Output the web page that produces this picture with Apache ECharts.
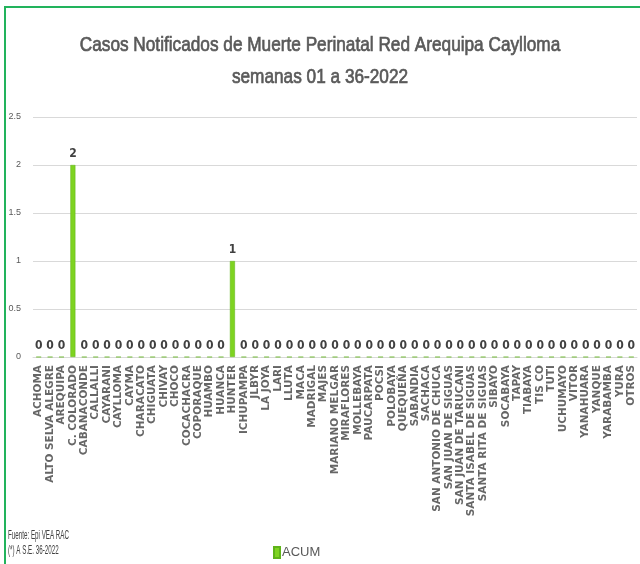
<!DOCTYPE html>
<html>
<head>
<meta charset="utf-8">
<script src="https://cdn.jsdelivr.net/npm/echarts@6/dist/echarts.min.js"></script>
<style>
  html, body { margin: 0; padding: 0; background: #fff; }
  #chart { width: 640px; height: 564px; }
</style>
</head>
<body>
<div id="chart"></div>
<script>
  // distritos
  var distritos = ['ACHOMA', 'ALTO SELVA ALEGRE', 'AREQUIPA', 'C. COLORADO', 'CABANACONDE', 'CALLALLI',
    'CAYARANI', 'CAYLLOMA', 'CAYMA', 'CHARACATO', 'CHIGUATA', 'CHIVAY', 'CHOCO', 'COCACHACRA',
    'COPORAQUE', 'HUAMBO', 'HUANCA', 'HUNTER', 'ICHUPAMPA', 'JLBYR', 'LA JOYA', 'LARI', 'LLUTA',
    'MACA', 'MADRIGAL', 'MAJES', 'MARIANO MELGAR', 'MIRAFLORES', 'MOLLEBAYA', 'PAUCARPATA', 'POCSI',
    'POLOBAYA', 'QUEQUEÑA', 'SABANDIA', 'SACHACA', 'SAN ANTONIO DE CHUCA', 'SAN JUAN DE SIGUAS',
    'SAN JUAN DE TARUCANI', 'SANTA ISABEL DE SIGUAS', 'SANTA RITA DE SIGUAS', 'SIBAYO', 'SOCABAYA',
    'TAPAY', 'TIABAYA', 'TIS CO', 'TUTI', 'UCHUMAYO', 'VITOR', 'YANAHUARA', 'YANQUE', 'YARABAMBA',
    'YURA', 'OTROS'];
  // casos acumulados
  var acum = [0, 0, 0, 2, 0, 0, 0, 0, 0, 0, 0, 0, 0, 0, 0, 0, 0, 1, 0, 0, 0, 0, 0, 0, 0, 0, 0,
    0, 0, 0, 0, 0, 0, 0, 0, 0, 0, 0, 0, 0, 0, 0, 0, 0, 0, 0, 0, 0, 0, 0, 0, 0, 0];
  var yTicks = [0, 0.5, 1, 1.5, 2, 2.5];

  var narrow = '"Liberation Sans", Arial, sans-serif';

  var chart = echarts.init(document.getElementById('chart'));
  chart.setOption({
    backgroundColor: '#fff',
    animation: false,
    graphic: [
      { type: 'rect', shape: { x: 5, y: 7, width: 700, height: 600 },
        style: { fill: 'none', stroke: '#22b35c', lineWidth: 2 } },
      // titulo (angosto como Arial Narrow)
      { type: 'text', x: 320, y: 29, scaleX: 0.82,
        style: { text: 'Casos Notificados de Muerte Perinatal Red Arequipa Caylloma\nsemanas 01 a 36-2022',
          textAlign: 'center', fill: '#595959', stroke: '#595959', lineWidth: 0.7, lineHeight: 32,
          font: '21px ' + narrow } },
      { type: 'text', x: 8, y: 528, scaleX: 0.52,
        style: { text: 'Fuente: Epi VEA RAC\n(*) A S.E. 36-2022', fill: '#404040', lineHeight: 15,
          font: '12px ' + narrow } }
    ],
    legend: {
      data: ['ACUM'],
      left: 268,
      top: 541,
      itemWidth: 6,
      itemHeight: 11,
      itemGap: 2,
      icon: 'rect',
      textStyle: {
        fontFamily: narrow,
        fontSize: 13, color: '#595959', padding: [0, 0, 0, -3]
      }
    },
    grid: { left: 33, right: 3, top: 117, bottom: 207, containLabel: false },
    xAxis: {
      type: 'category',
      data: distritos,
      axisLine: { lineStyle: { color: '#d9d9d9' } },
      axisTick: { show: false },
      axisLabel: {
        interval: 0,
        rotate: 90,
        margin: 8,
        color: '#666666',
        fontFamily: 'DejaVu Sans',
        fontWeight: 'bold',
        fontSize: 10.5
      }
    },
    yAxis: {
      type: 'value',
      min: 0,
      max: 2.5,
      interval: 0.5,
      axisLine: { show: false },
      axisTick: { show: false },
      splitLine: { lineStyle: { color: '#d9d9d9' } },
      axisLabel: {
        margin: 12,
        color: '#595959',
        fontFamily: narrow,
        fontSize: 9,
        formatter: function (v) { return yTicks.indexOf(v) >= 0 ? String(v) : ''; }
      }
    },
    series: [{
      name: 'ACUM',
      type: 'bar',
      data: acum,
      barWidth: 5,
      itemStyle: { color: '#7ed321', borderColor: '#5fb31a', borderWidth: 0.5 },
      label: {
        show: true,
        position: 'top',
        distance: 5,
        color: '#404040',
        fontFamily: 'DejaVu Sans Condensed, sans-serif',
        fontWeight: 'bold',
        fontSize: 12
      }
    }]
  });
</script>
</body>
</html>
